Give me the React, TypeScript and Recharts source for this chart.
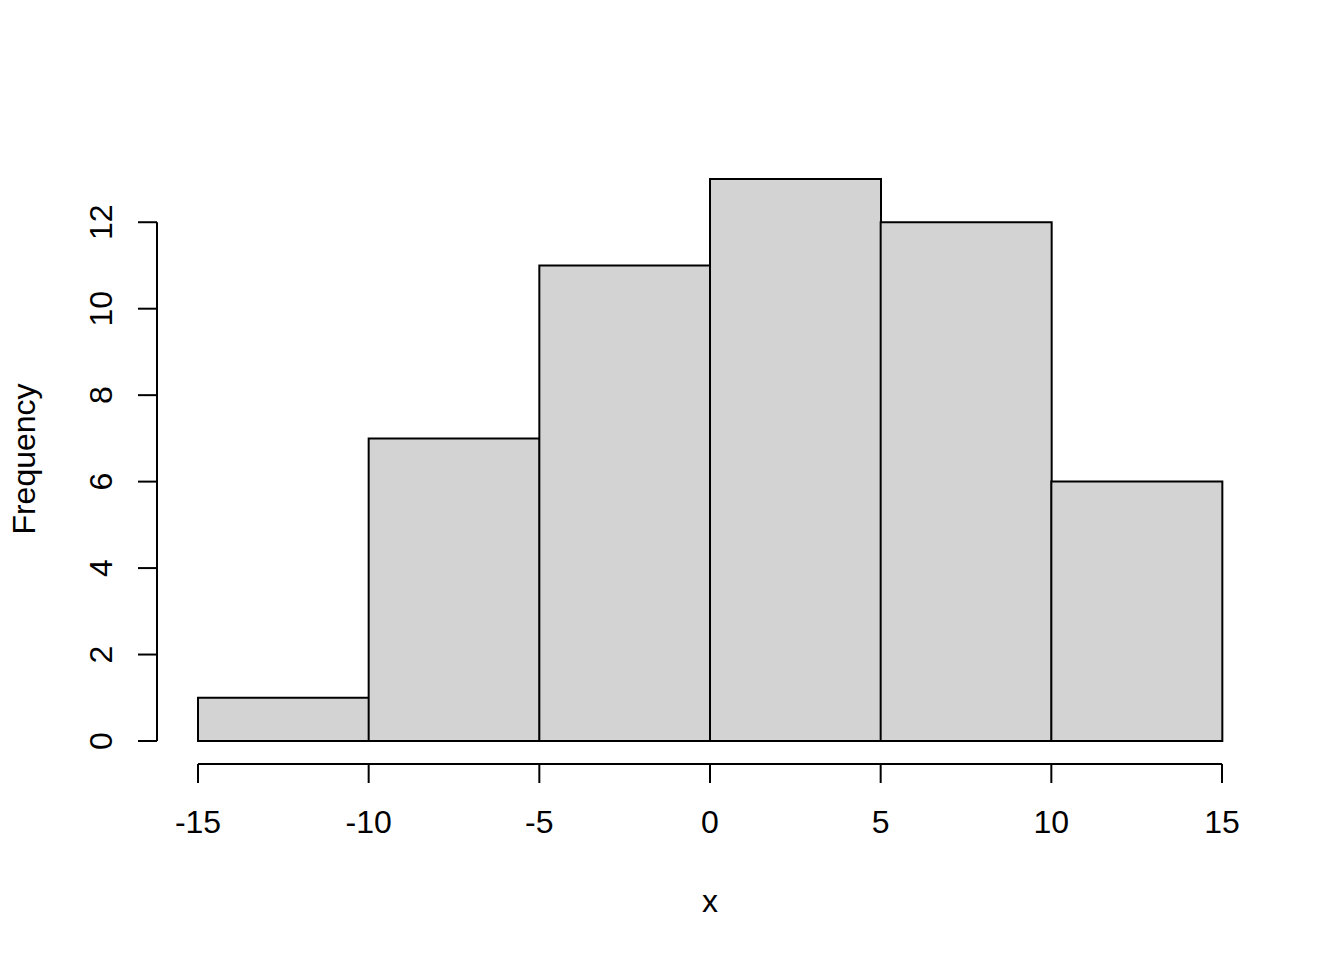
import { BarChart, Bar, XAxis, YAxis } from "recharts";

const binLabels = ["-15:-10", "-10:-5", "-5:0", "0:5", "5:10", "10:15"];
const binStarts = [-15, -10, -5, 0, 5, 10];
const counts = [1, 7, 11, 13, 12, 6];
const xTicks = [-15, -10, -5, 0, 5, 10, 15];
const yTicks = [0, 2, 4, 6, 8, 10, 12];

const data = binLabels.map((bin, i) => ({ bin, start: binStarts[i], count: counts[i] }));

const FONT = "'Liberation Sans', Arial, sans-serif";

function XTick(props: any) {
  const { x, payload } = props;
  return (
    <text x={x} y={833} textAnchor="middle" fontSize={32} fontFamily={FONT} fill="#000">
      {payload.value}
    </text>
  );
}

function YTick(props: any) {
  const { y, payload } = props;
  return (
    <text
      x={112}
      y={y}
      transform={`rotate(-90, 112, ${y})`}
      textAnchor="middle"
      fontSize={32}
      fontFamily={FONT}
      fill="#000"
    >
      {payload.value}
    </text>
  );
}

export default function App() {
  return (
    <div style={{ position: "absolute", left: 0, top: 0, width: 1344, height: 960, background: "#fff" }}>
      <BarChart
        width={1344}
        height={960}
        data={data}
        margin={{ top: 179, right: 122, bottom: 0, left: 0 }}
        barCategoryGap={0}
        barGap={0}
      >
        <XAxis xAxisId="bins" dataKey="bin" height={23} tick={false} axisLine={false} tickLine={false} />
        <XAxis
          xAxisId="edges"
          type="number"
          dataKey="start"
          domain={[-15, 15]}
          allowDataOverflow
          ticks={xTicks}
          interval={0}
          height={196}
          tickSize={19}
          tickMargin={0}
          axisLine={{ stroke: "#000", strokeWidth: 2 }}
          tickLine={{ stroke: "#000", strokeWidth: 2 }}
          tick={<XTick />}
          label={{
            content: (p: any) => (
              <text
                x={p.viewBox.x + p.viewBox.width / 2}
                y={p.viewBox.y + 148}
                textAnchor="middle"
                fontSize={32}
                fontFamily={FONT}
                fill="#000"
              >
                x
              </text>
            ),
          }}
        />
        <YAxis yAxisId="a" width={41} tick={false} axisLine={false} tickLine={false} />
        <YAxis
          yAxisId="freq"
          domain={[0, 13]}
          ticks={yTicks}
          interval={0}
          width={157}
          tickSize={19}
          tickMargin={0}
          axisLine={{ stroke: "#000", strokeWidth: 2, strokeDasharray: "0 43.2 600 0" }}
          tickLine={{ stroke: "#000", strokeWidth: 2 }}
          tick={<YTick />}
          label={{
            content: () => (
              <text
                x={35}
                y={459}
                transform="rotate(-90, 35, 459)"
                textAnchor="middle"
                fontSize={32}
                fontFamily={FONT}
                fill="#000"
              >
                Frequency
              </text>
            ),
          }}
        />
        <Bar
          xAxisId="bins"
          yAxisId="freq"
          dataKey="count"
          fill="#D3D3D3"
          stroke="#000"
          strokeWidth={2}
          isAnimationActive={false}
        />
      </BarChart>
    </div>
  );
}
